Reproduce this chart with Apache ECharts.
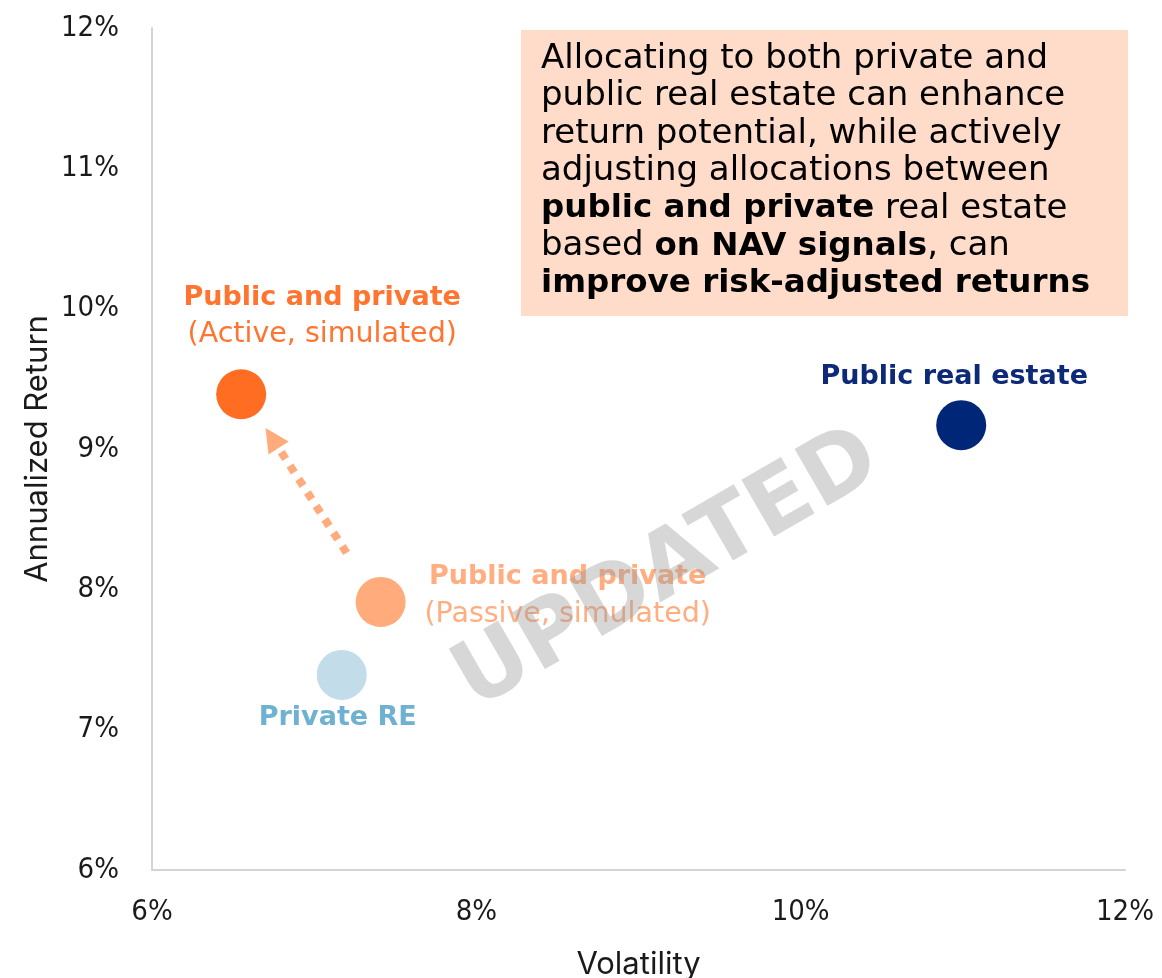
<!DOCTYPE html>
<html>
<head>
<meta charset="utf-8">
<script src="https://cdn.jsdelivr.net/npm/echarts@6/dist/echarts.min.js"></script>
<style>
  html, body { margin: 0; padding: 0; background: #ffffff; }
  #chart { width: 1162px; height: 978px; }
</style>
</head>
<body>
<div id="chart"></div>
<script>
// Portfolio risk / return points (volatility %, annualized return %)
const pointNames = ['Active', 'Public', 'Passive', 'Private'];
const volatility = [6.55, 10.99, 7.41, 7.17];
const annualReturn = [9.39, 9.17, 7.91, 7.39];
const pointColors = ['#FF6D22', '#002677', '#FFAB7B', '#C2DDE9'];
const labelColors = ['#FF7530', '#0C2A78', '#FFAE82', '#6FB1D0'];

// Shift from passive to active allocation: [fromVol, fromRet, toVol, toRet]
const arrowFrom = [7.20, 8.26];
const arrowTo = [6.70, 9.15];
const arrowColor = '#FFAB7B';

// Axis ranges
const xRange = { min: 6, max: 12, step: 2 };
const yRange = { min: 6, max: 12, step: 1 };

const TICK_FONT = '"DejaVu Sans Condensed", Inter, sans-serif';
const NAME_FONT = 'Inter, Lato, "Noto Sans", sans-serif';
const TEXT_FONT = '"DejaVu Sans", "Noto Sans", sans-serif';

const labelRich = (color) => ({
  b: { fontFamily: TEXT_FONT, fontWeight: 'bold', fontSize: 27, color: color, lineHeight: 37 },
  r: { fontFamily: TEXT_FONT, fontWeight: 'normal', fontSize: 28.5, color: color, lineHeight: 37 }
});

// Label text and its centre offset from the marker centre
const labelSpecs = {
  Active:  { text: '{b|Public and private}\n{r|(Active, simulated)}', offset: [81, -78] },
  Public:  { text: '{b|Public real estate}', offset: [-7, -48] },
  Passive: { text: '{b|Public and private}\n{r|(Passive, simulated)}', offset: [187, -6] },
  Private: { text: '{b|Private RE}', offset: [-4, 43] }
};

const scatterData = pointNames.map((name, i) => {
  const spec = labelSpecs[name];
  return {
    name: name,
    value: [volatility[i], annualReturn[i]],
    itemStyle: { color: pointColors[i], opacity: 1 },
    label: {
      show: true,
      formatter: spec.text,
      position: 'inside',
      offset: spec.offset,
      align: 'center',
      verticalAlign: 'middle',
      rich: labelRich(labelColors[i])
    }
  };
});

// Dotted shaft plus solid triangular head, placed through the axis scales
function renderArrow(params, api) {
  const p0 = api.coord([api.value(0), api.value(1)]);
  const p1 = api.coord([api.value(2), api.value(3)]);
  const dx = p1[0] - p0[0];
  const dy = p1[1] - p0[1];
  const len = Math.sqrt(dx * dx + dy * dy);
  const ux = dx / len, uy = dy / len;
  const nx = -uy, ny = ux;
  const headLen = 24, headHalf = 12, gap = 3;
  const base = [p1[0] - ux * headLen, p1[1] - uy * headLen];
  const shaftEnd = [p1[0] - ux * (headLen + gap), p1[1] - uy * (headLen + gap)];
  return {
    type: 'group',
    children: [
      {
        type: 'line',
        shape: { x1: p0[0], y1: p0[1], x2: shaftEnd[0], y2: shaftEnd[1] },
        style: { stroke: arrowColor, lineWidth: 8, lineDash: [8, 8], lineCap: 'butt', fill: null }
      },
      {
        type: 'polygon',
        shape: {
          points: [
            [p1[0], p1[1]],
            [base[0] + nx * headHalf, base[1] + ny * headHalf],
            [base[0] - nx * headHalf, base[1] - ny * headHalf]
          ]
        },
        style: { fill: arrowColor, stroke: null }
      }
    ]
  };
}

const chart = echarts.init(document.getElementById('chart'), null, { renderer: 'canvas' });

chart.setOption({
  animation: false,
  backgroundColor: '#ffffff',
  grid: { left: 152, right: 37, top: 28, bottom: 108, containLabel: false, outerBoundsMode: 'none' },
  xAxis: {
    type: 'value',
    min: xRange.min, max: xRange.max, interval: xRange.step,
    name: 'Volatility',
    nameLocation: 'middle',
    nameGap: 79,
    nameMoveOverlap: false,
    nameTextStyle: { fontFamily: NAME_FONT, fontSize: 31, color: '#1a1a1a' },
    axisLine: { show: true, lineStyle: { color: '#d4d4d4', width: 2 } },
    axisTick: { show: false },
    splitLine: { show: false },
    axisLabel: { formatter: '{value}%', margin: 28, fontFamily: TICK_FONT, fontSize: 29, color: '#1a1a1a' }
  },
  yAxis: {
    type: 'value',
    min: yRange.min, max: yRange.max, interval: yRange.step,
    name: 'Annualized Return',
    nameLocation: 'middle',
    nameGap: 99,
    nameMoveOverlap: false,
    nameTextStyle: { fontFamily: NAME_FONT, fontSize: 31, color: '#1a1a1a' },
    axisLine: { show: true, lineStyle: { color: '#d4d4d4', width: 2 } },
    axisTick: { show: false },
    splitLine: { show: false },
    axisLabel: { formatter: '{value}%', margin: 33, fontFamily: TICK_FONT, fontSize: 29, color: '#1a1a1a' }
  },
  series: [
    {
      type: 'custom',
      coordinateSystem: 'cartesian2d',
      z: 3,
      renderItem: renderArrow,
      encode: { x: [0, 2], y: [1, 3] },
      data: [[arrowFrom[0], arrowFrom[1], arrowTo[0], arrowTo[1]]],
      silent: true
    },
    {
      type: 'scatter',
      z: 4,
      symbol: 'circle',
      symbolSize: 50,
      data: scatterData
    }
  ],
  graphic: [
    {
      type: 'group',
      left: 521,
      top: 30,
      z: 5,
      children: [
        {
          type: 'rect',
          shape: { x: 0, y: 0, width: 607, height: 286 },
          style: { fill: '#FFDBCA' }
        },
        {
          type: 'text',
          x: 20,
          y: 10,
          style: {
            text: [
              '{r|Allocating to both private and}',
              '{r|public real estate can enhance}',
              '{r|return potential, while actively}',
              '{r|adjusting allocations between}',
              '{b|public and private}{r| real estate}',
              '{r|based }{b|on NAV signals}{r|, can}',
              '{b|improve risk-adjusted returns}'
            ].join('\n'),
            rich: {
              r: { fontFamily: TEXT_FONT, fontSize: 34, fontWeight: 'normal', fill: '#000000', lineHeight: 37.5 },
              b: { fontFamily: TEXT_FONT, fontSize: 32.5, fontWeight: 'bold', fill: '#000000', lineHeight: 37.5 }
            }
          }
        }
      ]
    },
    {
      type: 'text',
      x: 668,
      y: 571,
      rotation: 30 * Math.PI / 180,
      z: 50,
      style: {
        text: 'UPDATED',
        fontFamily: '"DejaVu Sans", sans-serif',
        fontWeight: 'bold',
        fontSize: 90,
        fill: 'rgba(150,150,150,0.38)',
        align: 'center',
        verticalAlign: 'middle'
      }
    }
  ]
});
</script>
</body>
</html>
